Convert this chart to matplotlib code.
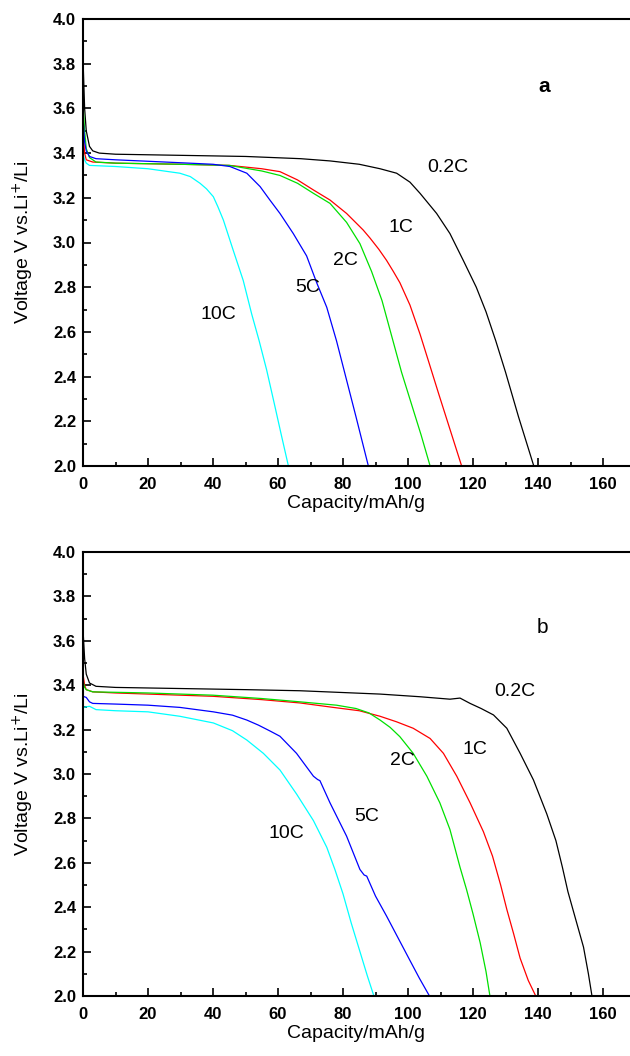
import matplotlib
matplotlib.use("Agg")
import matplotlib.pyplot as plt
from matplotlib.ticker import MultipleLocator, FormatStrFormatter

plt.rcParams['font.family'] = ['Liberation Sans', 'DejaVu Sans']

# ---------------- Panel a data ----------------
a_02C_x = [0, 0.5, 1, 2, 3, 5, 10, 30, 50, 67, 76, 85, 91.4, 96.5, 100.6, 103.7, 108.8, 112.9, 117, 121, 124, 127, 130, 134, 138.7]
a_02C_y = [3.82, 3.6, 3.5, 3.43, 3.41, 3.40, 3.395, 3.39, 3.385, 3.375, 3.365, 3.35, 3.33, 3.31, 3.27, 3.22, 3.13, 3.04, 2.92, 2.80, 2.69, 2.56, 2.42, 2.22, 2.0]

a_1C_x = [0, 0.5, 1, 3, 10, 30, 45, 55, 60.6, 66, 70.9, 76, 81.1, 86.2, 88.3, 91, 93.4, 95.5, 97.5, 100.6, 103.7, 106.5, 109.5, 113, 116.5]
a_1C_y = [3.5, 3.40, 3.37, 3.36, 3.355, 3.35, 3.345, 3.33, 3.317, 3.28, 3.235, 3.19, 3.13, 3.056, 3.02, 2.97, 2.92, 2.87, 2.82, 2.72, 2.59, 2.46, 2.32, 2.16, 2.0]

a_2C_x = [0, 0.5, 1, 2, 4, 10, 30, 45, 55, 60.6, 66, 70.9, 76, 81.1, 85.2, 88.8, 92, 95, 98, 101, 104, 106.8]
a_2C_y = [3.62, 3.5, 3.42, 3.38, 3.36, 3.355, 3.35, 3.345, 3.32, 3.30, 3.265, 3.22, 3.175, 3.09, 2.995, 2.87, 2.74, 2.58, 2.42, 2.28, 2.14, 2.0]

a_5C_x = [0, 0.5, 1, 2, 4, 10, 29.8, 40, 45.2, 50.4, 54.5, 57.5, 60.6, 64.7, 68.8, 71.9, 75, 78, 81, 84, 87.8]
a_5C_y = [3.56, 3.45, 3.41, 3.385, 3.375, 3.37, 3.357, 3.35, 3.34, 3.31, 3.25, 3.19, 3.13, 3.04, 2.94, 2.82, 2.71, 2.56, 2.39, 2.22, 2.0]

a_10C_x = [0, 0.5, 1, 2, 10, 20, 29.8, 33, 36, 38, 40.1, 41.5, 43.2, 46.2, 49.3, 51.9, 54.2, 56.5, 59, 61, 63.2]
a_10C_y = [3.40, 3.37, 3.355, 3.345, 3.34, 3.33, 3.31, 3.295, 3.265, 3.24, 3.205, 3.16, 3.10, 2.966, 2.83, 2.68, 2.56, 2.43, 2.27, 2.14, 2.0]

# ---------------- Panel b data ----------------
b_02C_x = [0, 0.5, 1, 2, 4, 10, 30, 50, 66.8, 91.4, 103.7, 112.9, 116, 119.1, 122.5, 126.3, 130.4, 134.5, 138.6, 142.7, 145.5, 147.5, 149.2, 151.5, 154, 155.5, 156.6]
b_02C_y = [3.65, 3.52, 3.45, 3.41, 3.395, 3.39, 3.385, 3.38, 3.375, 3.36, 3.348, 3.337, 3.342, 3.318, 3.295, 3.266, 3.206, 3.093, 2.973, 2.82, 2.70, 2.58, 2.47, 2.35, 2.22, 2.10, 2.0]

b_1C_x = [0, 0.5, 1, 3, 10, 20, 40, 55, 66.8, 77, 85, 91.4, 96.5, 101.6, 106.8, 110.9, 115, 119.1, 123.2, 126, 128.5, 130.4, 132.5, 134.5, 137, 139.3]
b_1C_y = [3.45, 3.40, 3.38, 3.37, 3.365, 3.36, 3.35, 3.335, 3.32, 3.30, 3.285, 3.26, 3.235, 3.206, 3.16, 3.093, 2.99, 2.87, 2.74, 2.63, 2.50, 2.39, 2.28, 2.17, 2.07, 2.0]

b_2C_x = [0, 0.5, 1, 3, 10, 20, 40, 55, 66.8, 78, 84, 88, 91.4, 94.5, 97.5, 101.6, 105.8, 109.8, 112.9, 116, 118, 120, 122.2, 124, 125.2]
b_2C_y = [3.42, 3.39, 3.38, 3.37, 3.368, 3.365, 3.355, 3.34, 3.325, 3.31, 3.295, 3.275, 3.243, 3.21, 3.168, 3.093, 2.99, 2.87, 2.75, 2.58, 2.48, 2.37, 2.24, 2.11, 2.0]

b_5C_x = [0, 1, 2, 3, 10, 20, 29.8, 40.1, 46, 50.4, 54, 57.5, 60.6, 65.7, 70.9, 72.2, 72.9, 76, 81.1, 85.2, 86.5, 87.3, 90, 93.4, 97, 100.6, 103.5, 106.6]
b_5C_y = [3.35, 3.345, 3.325, 3.318, 3.315, 3.31, 3.30, 3.28, 3.265, 3.243, 3.22, 3.194, 3.17, 3.093, 2.99, 2.975, 2.97, 2.87, 2.72, 2.57, 2.545, 2.54, 2.45, 2.36, 2.26, 2.16, 2.08, 2.0]

b_10C_x = [0, 2, 4, 10, 20, 29.8, 40.1, 46, 50.4, 55.5, 60.6, 65.7, 70.9, 75, 77.5, 80, 82.5, 85, 87.5, 89.5]
b_10C_y = [3.30, 3.305, 3.29, 3.285, 3.28, 3.26, 3.23, 3.195, 3.153, 3.093, 3.018, 2.91, 2.79, 2.67, 2.57, 2.46, 2.33, 2.21, 2.09, 2.0]

rate_labels = ["0.2C", "1C", "2C", "5C", "10C"]
colors = ["black", "#ff0000", "#00e000", "#0000ff", "#00ffff"]

a_label_pos = [(112.3, 3.335), (97.8, 3.065), (80.6, 2.92), (69.2, 2.80), (41.8, 2.68)]
b_label_pos = [(132.9, 3.37), (120.6, 3.11), (98.4, 3.06), (87.3, 2.81), (62.7, 2.733)]

panels = [
    dict(curves=[(a_02C_x, a_02C_y), (a_1C_x, a_1C_y), (a_2C_x, a_2C_y), (a_5C_x, a_5C_y), (a_10C_x, a_10C_y)],
         labels=a_label_pos, letter="a", letter_pos=(142, 3.70), letter_weight="bold",
         rect=[83/630, 1-466/1056, 547/630, 447/1056]),
    dict(curves=[(b_02C_x, b_02C_y), (b_1C_x, b_1C_y), (b_2C_x, b_2C_y), (b_5C_x, b_5C_y), (b_10C_x, b_10C_y)],
         labels=b_label_pos, letter="b", letter_pos=(141.5, 3.66), letter_weight="normal",
         rect=[83/630, 1-996/1056, 547/630, 444/1056]),
]

fig = plt.figure(figsize=(6.3, 10.56), dpi=100)

for p in panels:
    ax = fig.add_axes(p["rect"])
    for (x, y), c in zip(p["curves"], colors):
        ax.plot(x, y, color=c, lw=0.9)
    for (lx, ly), t in zip(p["labels"], rate_labels):
        ax.text(lx, ly, t, ha="center", va="center", fontsize=14)
    ax.text(p["letter_pos"][0], p["letter_pos"][1], p["letter"], ha="center", va="center",
            fontsize=15, fontweight=p["letter_weight"])
    ax.set_xlim(0, 168.3)
    ax.set_ylim(2.0, 4.0)
    ax.xaxis.set_major_locator(MultipleLocator(20))
    ax.xaxis.set_minor_locator(MultipleLocator(10))
    ax.yaxis.set_major_locator(MultipleLocator(0.2))
    ax.yaxis.set_minor_locator(MultipleLocator(0.1))
    ax.yaxis.set_major_formatter(FormatStrFormatter('%.1f'))
    ax.tick_params(which="both", direction="in", top=False, right=False, width=1.2)
    ax.tick_params(which="major", length=6, labelsize=12)
    ax.tick_params(axis="x", which="major", pad=8)
    ax.tick_params(axis="y", which="major", pad=5)
    ax.tick_params(which="minor", length=3)
    for lab in ax.get_xticklabels() + ax.get_yticklabels():
        lab.set_fontweight("bold")
    ax.spines["right"].set_visible(False)
    for s in ["left", "bottom", "top"]:
        ax.spines[s].set_linewidth(1.5)
    ax.set_xlabel("Capacity/mAh/g", fontsize=14, labelpad=2)
    ax.set_ylabel("Voltage V vs.Li$^{+}$/Li", fontsize=14, labelpad=12)

fig.savefig("out.png", dpi=100)
